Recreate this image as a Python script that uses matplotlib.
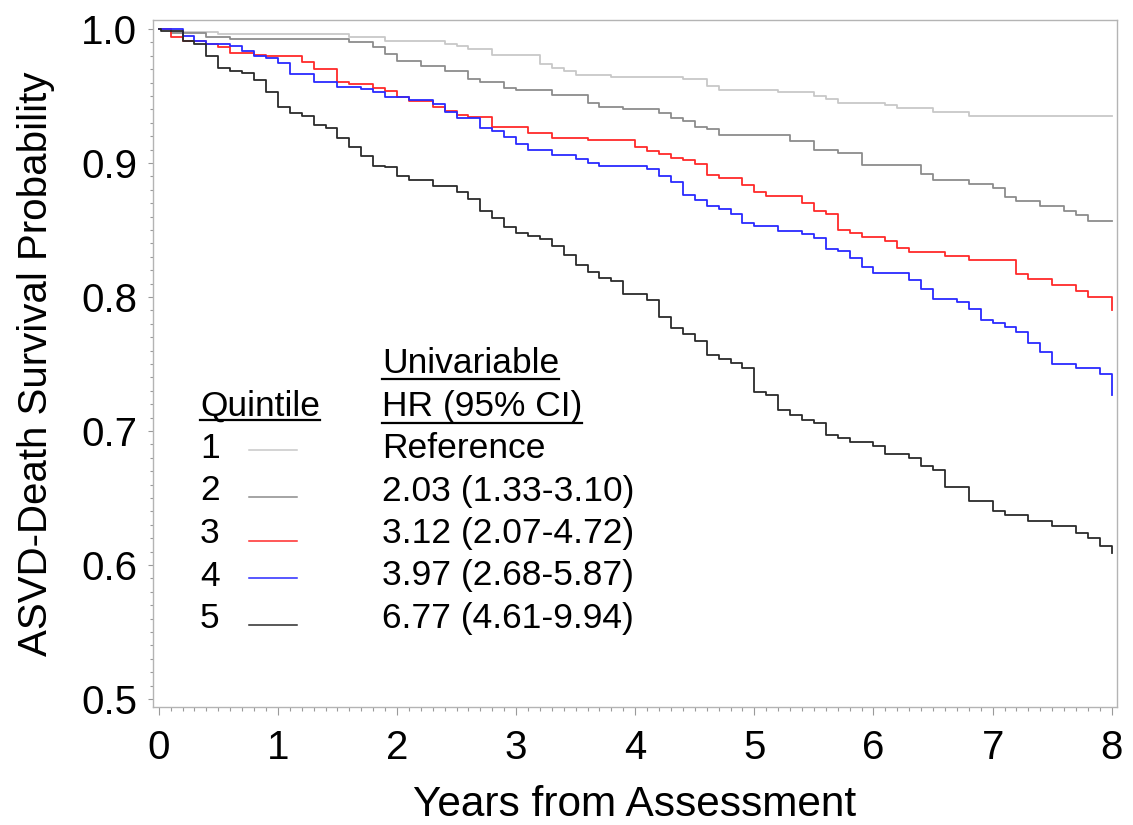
import matplotlib
matplotlib.use("Agg")
import matplotlib.pyplot as plt
from matplotlib.lines import Line2D
from matplotlib.ticker import MultipleLocator, FormatStrFormatter

plt.rcParams['font.family'] = ['Liberation Sans', 'DejaVu Sans']

# Kaplan-Meier steps: (time of drop, survival after it)
t_q1 = [0, 0.1, 0.5, 1.6, 1.9, 2.4, 2.5, 2.6, 2.8, 3.2, 3.3, 3.4, 3.5, 3.8, 4.4, 4.6,
        4.7, 5.2, 5.5, 5.6, 5.7, 6.1, 6.2, 6.5, 6.8, 8.0]
s_q1 = [1.0, 0.998, 0.9963, 0.9943, 0.991, 0.989, 0.987, 0.985, 0.9806, 0.974, 0.971,
        0.969, 0.966, 0.9644, 0.9624, 0.9577, 0.9545, 0.9527, 0.950, 0.9478, 0.945,
        0.9433, 0.9408, 0.9378, 0.9353, 0.9353]

t_q2 = [0, 0.1, 0.4, 0.6, 1.6, 1.8, 1.9, 2.0, 2.2, 2.4, 2.6, 2.7, 2.9, 3.0, 3.3, 3.6,
        3.7, 3.9, 4.2, 4.3, 4.4, 4.5, 4.6, 4.7, 5.3, 5.5, 5.7, 5.9, 6.4, 6.5, 6.8, 7.0,
        7.1, 7.2, 7.4, 7.6, 7.7, 7.8, 8.0]
s_q2 = [1.0, 0.9968, 0.9943, 0.9925, 0.9905, 0.9868, 0.981, 0.9764, 0.9726, 0.9687,
        0.9624, 0.9604, 0.956, 0.9545, 0.9507, 0.9445, 0.942, 0.940, 0.9376, 0.9333,
        0.9313, 0.927, 0.925, 0.921, 0.9167, 0.9097, 0.9072, 0.8985, 0.8915, 0.8873,
        0.8843, 0.881, 0.8749, 0.8716, 0.8682, 0.8644, 0.8612, 0.8567, 0.8567]

t_q3 = [0, 0.1, 0.2, 0.3, 0.4, 0.5, 0.6, 0.8, 0.9, 1.2, 1.3, 1.5, 1.6, 1.8, 1.9, 2.0,
        2.1, 2.3, 2.4, 2.5, 2.6, 2.8, 3.1, 3.3, 3.6, 4.0, 4.1, 4.2, 4.3, 4.4, 4.5, 4.6,
        4.7, 4.9, 5.0, 5.1, 5.4, 5.5, 5.6, 5.7, 5.8, 5.9, 6.1, 6.2, 6.3, 6.6, 6.8, 7.2,
        7.3, 7.5, 7.7, 7.8, 8.0]
s_q3 = [1.0, 0.9938, 0.9913, 0.9908, 0.9888, 0.9868, 0.9818, 0.9806, 0.980, 0.975,
        0.970, 0.9607, 0.9587, 0.9557, 0.9537, 0.949, 0.9465, 0.9415, 0.939, 0.9358,
        0.934, 0.927, 0.922, 0.919, 0.917, 0.912, 0.909, 0.9065, 0.904, 0.902, 0.899,
        0.891, 0.8886, 0.8836, 0.878, 0.8754, 0.870, 0.8642, 0.8617, 0.850, 0.8475,
        0.845, 0.842, 0.8363, 0.8338, 0.8308, 0.8276, 0.817, 0.8132, 0.809, 0.8047,
        0.800, 0.790]

t_q4 = [0, 0.2, 0.3, 0.4, 0.6, 0.7, 0.8, 0.9, 1.0, 1.1, 1.3, 1.5, 1.7, 1.8, 1.9, 2.1,
        2.3, 2.4, 2.5, 2.7, 2.8, 2.9, 3.0, 3.1, 3.3, 3.5, 3.6, 3.7, 4.1, 4.2, 4.3, 4.4,
        4.5, 4.6, 4.7, 4.8, 4.9, 5.0, 5.2, 5.4, 5.5, 5.6, 5.7, 5.8, 5.9, 6.0, 6.3, 6.4,
        6.5, 6.7, 6.8, 6.9, 7.0, 7.1, 7.2, 7.3, 7.4, 7.5, 7.7, 7.9, 8.0]
s_q4 = [1.0, 0.995, 0.9913, 0.9888, 0.9873, 0.9836, 0.980, 0.978, 0.9744, 0.9664,
        0.9607, 0.957, 0.9552, 0.9532, 0.9495, 0.947, 0.9438, 0.9383, 0.9333, 0.926,
        0.924, 0.9197, 0.914, 0.910, 0.906, 0.9027, 0.900, 0.898, 0.8955, 0.890,
        0.8856, 0.876, 0.872, 0.868, 0.8657, 0.8617, 0.855, 0.8532, 0.8493, 0.8468,
        0.8443, 0.8358, 0.8343, 0.829, 0.8226, 0.8177, 0.8127, 0.806, 0.7985, 0.796,
        0.791, 0.7828, 0.7803, 0.7774, 0.7741, 0.7654, 0.7592, 0.7498, 0.7468, 0.7425,
        0.727]

t_q5 = [0, 0.02, 0.2, 0.3, 0.4, 0.5, 0.6, 0.7, 0.8, 0.9, 1.0, 1.1, 1.2, 1.3, 1.4, 1.5,
        1.6, 1.7, 1.8, 1.9, 2.0, 2.1, 2.3, 2.5, 2.6, 2.7, 2.8, 2.9, 3.0, 3.1, 3.2, 3.3,
        3.4, 3.5, 3.6, 3.7, 3.8, 3.9, 4.1, 4.2, 4.3, 4.4, 4.5, 4.6, 4.7, 4.8, 4.9, 5.0,
        5.1, 5.2, 5.3, 5.4, 5.5, 5.6, 5.7, 5.8, 6.0, 6.1, 6.3, 6.4, 6.5, 6.6, 6.8, 7.0,
        7.1, 7.3, 7.5, 7.7, 7.8, 7.9, 8.0]
s_q5 = [1.0, 0.9985, 0.9913, 0.989, 0.980, 0.971, 0.969, 0.967, 0.962, 0.953, 0.942,
        0.937, 0.935, 0.928, 0.926, 0.919, 0.912, 0.905, 0.898, 0.897, 0.890, 0.887,
        0.883, 0.878, 0.873, 0.864, 0.859, 0.8525, 0.848, 0.8455, 0.843, 0.838, 0.831,
        0.824, 0.819, 0.814, 0.812, 0.802, 0.798, 0.785, 0.777, 0.772, 0.767, 0.757,
        0.754, 0.751, 0.747, 0.729, 0.727, 0.716, 0.712, 0.708, 0.7057, 0.697, 0.6945,
        0.692, 0.689, 0.683, 0.680, 0.674, 0.671, 0.658, 0.6475, 0.640, 0.637, 0.633,
        0.629, 0.624, 0.620, 0.614, 0.609]

quintiles = ['1', '2', '3', '4', '5']
hr_text = ['Reference', '2.03 (1.33-3.10)', '3.12 (2.07-4.72)',
           '3.97 (2.68-5.87)', '6.77 (4.61-9.94)']
colors = ['#c8c8c8', '#8c8c8c', '#ff2a2a', '#2a2aff', '#2b2b2b']

W, H = 1133, 825
fig = plt.figure(figsize=(W / 100, H / 100), dpi=100)
ax = fig.add_axes([153 / W, 1 - 707 / H, (1117 - 153) / W, (707 - 20) / H])

series = [(t_q1, s_q1), (t_q2, s_q2), (t_q3, s_q3), (t_q4, s_q4), (t_q5, s_q5)]
for (t, s), c in zip(series, colors):
    ax.step(t, s, where='post', color=c, lw=1.3)

ax.set_xlim(-0.048, 8.044)
ax.set_ylim(0.494, 1.0067)
ax.xaxis.set_major_locator(MultipleLocator(1))
ax.xaxis.set_minor_locator(MultipleLocator(0.1))
ax.yaxis.set_major_locator(MultipleLocator(0.1))
ax.yaxis.set_minor_locator(MultipleLocator(0.01))
ax.yaxis.set_major_formatter(FormatStrFormatter('%.1f'))

for sp in ax.spines.values():
    sp.set_color('#b4b4b4')
    sp.set_linewidth(1.0)
ax.tick_params(axis='x', which='major', length=6, width=0.8, color='#9a9a9a',
               labelsize=29, pad=10)
ax.tick_params(axis='x', which='minor', length=2.8, width=0.8, color='#9a9a9a')
ax.tick_params(axis='y', which='major', length=3.4, width=0.8, color='#9a9a9a',
               labelsize=29, pad=8)
ax.tick_params(axis='y', which='minor', length=2, width=0.8, color='#9a9a9a')

ax.set_xlabel('Years from Assessment', fontsize=30.5, labelpad=13)
ax.set_ylabel('ASVD-Death Survival Probability', fontsize=29, labelpad=19)


def fx(px):
    return px / W


def fy(py):
    return 1 - py / H


fs = 25.5
heads = [fig.text(fx(200), fy(416), 'Quintile', fontsize=fs),
         fig.text(fx(382), fy(373), 'Univariable', fontsize=fs),
         fig.text(fx(382), fy(416), 'HR (95% CI)', fontsize=fs)]
under_y = [419.5, 379.5, 422.5]

base_y = [458, 500.5, 543, 585.5, 628]
line_y = [450, 497, 541, 578, 625]
for q, hr, c, by, ly in zip(quintiles, hr_text, colors, base_y, line_y):
    fig.text(fx(200), fy(by), q, fontsize=fs)
    fig.text(fx(382), fy(by), hr, fontsize=fs)
    fig.add_artist(Line2D([fx(249), fx(297)], [fy(ly), fy(ly)], color=c, lw=1.1))

fig.canvas.draw()
r = fig.canvas.get_renderer()
for txt, uy in zip(heads, under_y):
    bb = txt.get_window_extent(r)
    fig.add_artist(Line2D([bb.x0 / W, bb.x1 / W], [fy(uy), fy(uy)], color='black', lw=1.6))

fig.savefig('out.png', dpi=100)
